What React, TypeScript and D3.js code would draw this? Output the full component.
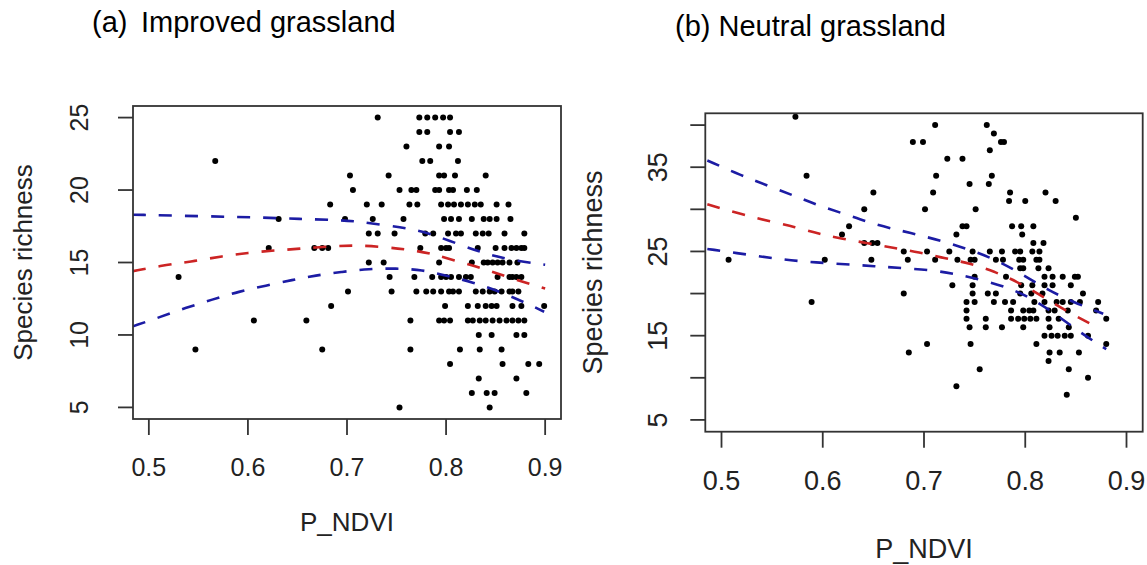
import React from "react";
import * as d3 from "d3";

// ---------- DATA ----------
const xTicks = [0.5, 0.6, 0.7, 0.8, 0.9];
const yTicksA = [5, 10, 15, 20, 25];
const yTicksB = [5, 10, 15, 20, 25, 30, 35, 40];
const yLabelsB = [5, 15, 25, 35];

// Improved grassland: rows of [species richness, P_NDVI values]
const improvedRows: [number, number[]][] = [
  [25, [0.731, 0.773, 0.781, 0.789, 0.797, 0.804]],
  [24, [0.773, 0.781, 0.804, 0.813]],
  [23, [0.76, 0.793, 0.803]],
  [22, [0.567, 0.776, 0.784, 0.812]],
  [21, [0.703, 0.742, 0.793, 0.798, 0.809, 0.84]],
  [20, [0.706, 0.753, 0.765, 0.77, 0.789, 0.793, 0.803, 0.807, 0.821, 0.831]],
  [19, [0.683, 0.72, 0.735, 0.763, 0.771, 0.795, 0.802, 0.808, 0.815, 0.822, 0.829, 0.835, 0.851, 0.863]],
  [18, [0.631, 0.698, 0.726, 0.757, 0.798, 0.805, 0.813, 0.826, 0.838, 0.844, 0.851, 0.865]],
  [17, [0.722, 0.731, 0.748, 0.779, 0.787, 0.802, 0.81, 0.815, 0.83, 0.837, 0.843, 0.859, 0.879]],
  [16, [0.621, 0.667, 0.675, 0.681, 0.774, 0.795, 0.8, 0.803, 0.832, 0.85, 0.859, 0.866, 0.871, 0.876, 0.879]],
  [15, [0.722, 0.737, 0.793, 0.826, 0.838, 0.842, 0.847, 0.852, 0.857, 0.864, 0.872]],
  [14, [0.53, 0.743, 0.768, 0.786, 0.795, 0.8, 0.805, 0.813, 0.82, 0.825, 0.852, 0.864, 0.867, 0.871, 0.876]],
  [13, [0.701, 0.745, 0.77, 0.78, 0.787, 0.795, 0.803, 0.807, 0.813, 0.83, 0.837, 0.844, 0.849, 0.856, 0.864, 0.867, 0.873]],
  [12, [0.684, 0.799, 0.822, 0.832, 0.84, 0.846, 0.851, 0.867, 0.876, 0.899]],
  [11, [0.606, 0.659, 0.764, 0.793, 0.798, 0.804, 0.822, 0.827, 0.834, 0.84, 0.847, 0.854, 0.861, 0.867, 0.873, 0.879]],
  [10, [0.833, 0.846, 0.871, 0.879]],
  [9, [0.547, 0.675, 0.764, 0.814, 0.834, 0.856]],
  [8, [0.804, 0.857, 0.883, 0.894]],
  [7, [0.833, 0.871]],
  [6, [0.826, 0.841, 0.849, 0.881]],
  [5, [0.753, 0.844]],
  [4, [0.746, 0.857]],
];

// Neutral grassland
const neutralRows: [number, number[]][] = [
  [41, [0.573]],
  [40, [0.711, 0.762]],
  [39, [0.769]],
  [38, [0.689, 0.699, 0.776, 0.779]],
  [37, [0.765]],
  [36, [0.723, 0.738]],
  [34, [0.584, 0.712, 0.767]],
  [33, [0.745, 0.764]],
  [32, [0.65, 0.709, 0.785, 0.82]],
  [31, [0.784, 0.8, 0.83]],
  [30, [0.641, 0.701, 0.751]],
  [29, [0.85]],
  [28, [0.626, 0.738, 0.742, 0.787, 0.796, 0.808]],
  [27, [0.619, 0.732, 0.797]],
  [26, [0.641, 0.649, 0.654, 0.808, 0.818]],
  [25, [0.68, 0.703, 0.725, 0.748, 0.765, 0.777, 0.79, 0.795, 0.807, 0.814]],
  [24, [0.507, 0.602, 0.648, 0.684, 0.711, 0.733, 0.746, 0.75, 0.771, 0.778, 0.794, 0.798, 0.811, 0.814]],
  [23, [0.795, 0.798, 0.813, 0.823]],
  [22, [0.75, 0.781, 0.819, 0.827, 0.837, 0.849, 0.852]],
  [21, [0.728, 0.748, 0.796, 0.807, 0.819, 0.827, 0.845]],
  [20, [0.68, 0.748, 0.763, 0.771, 0.795, 0.806, 0.817, 0.857]],
  [19, [0.589, 0.742, 0.75, 0.769, 0.78, 0.788, 0.809, 0.819, 0.831, 0.837, 0.845, 0.854, 0.872]],
  [18, [0.742, 0.786, 0.798, 0.804, 0.808, 0.823, 0.829, 0.842, 0.87]],
  [17, [0.742, 0.761, 0.786, 0.793, 0.799, 0.805, 0.811, 0.823, 0.833, 0.88]],
  [16, [0.745, 0.761, 0.777, 0.798, 0.824, 0.843]],
  [15, [0.819, 0.826, 0.832, 0.839, 0.845, 0.862]],
  [14, [0.703, 0.746, 0.811, 0.88]],
  [13, [0.685, 0.824, 0.834, 0.853]],
  [12, [0.823]],
  [11, [0.755, 0.843]],
  [10, [0.862]],
  [9, [0.732]],
  [8, [0.841]],
];

// Fitted curves
const fitAx = [0.484, 0.519, 0.546, 0.574, 0.6, 0.627, 0.652, 0.68, 0.706, 0.733, 0.76, 0.783, 0.81, 0.837, 0.864, 0.9];
const fitAy = [14.4, 14.86, 15.09, 15.44, 15.67, 15.83, 15.95, 16.1, 16.2, 16.1, 15.9, 15.67, 15.1, 14.6, 13.94, 13.2];
const upAx = [0.484, 0.55, 0.618, 0.652, 0.685, 0.709, 0.736, 0.763, 0.786, 0.815, 0.84, 0.867, 0.9];
const upAy = [18.3, 18.2, 18.1, 18.0, 17.95, 17.85, 17.6, 17.35, 16.95, 16.2, 15.6, 15.15, 14.85];
const loAx = [0.484, 0.51, 0.537, 0.564, 0.591, 0.618, 0.645, 0.668, 0.695, 0.722, 0.749, 0.776, 0.8, 0.827, 0.854, 0.881, 0.899];
const loAy = [10.6, 11.2, 11.87, 12.44, 13.0, 13.4, 13.8, 14.1, 14.36, 14.56, 14.6, 14.5, 14.1, 13.64, 13.0, 12.2, 11.6];

const fitBx = [0.486, 0.52, 0.547, 0.573, 0.596, 0.619, 0.646, 0.671, 0.695, 0.72, 0.745, 0.77, 0.794, 0.819, 0.844, 0.874];
const fitBy = [30.6, 29.4, 28.6, 27.9, 27.1, 26.5, 25.95, 25.4, 24.9, 24.2, 23.6, 22.6, 21.3, 19.5, 17.7, 15.8];
const upBx = [0.486, 0.52, 0.547, 0.573, 0.596, 0.623, 0.651, 0.676, 0.7, 0.725, 0.75, 0.775, 0.8, 0.823, 0.847, 0.877];
const upBy = [35.8, 34.0, 32.75, 31.55, 30.45, 29.4, 28.2, 27.5, 26.8, 26.0, 25.0, 23.8, 22.05, 20.4, 19.0, 17.6];
const loBx = [0.486, 0.527, 0.553, 0.58, 0.606, 0.633, 0.657, 0.682, 0.71, 0.735, 0.761, 0.788, 0.811, 0.834, 0.86, 0.88];
const loBy = [25.3, 24.6, 24.15, 23.8, 23.6, 23.4, 23.2, 23.0, 22.75, 22.25, 21.5, 20.5, 19.1, 17.2, 14.9, 13.4];

// ---------- STYLE ----------
const FONT = "'Liberation Sans', Arial, Helvetica, sans-serif";
const BLUE = "#1c1ca4";
const RED = "#cc2424";
const AXIS = "#333";

type PanelCfg = {
  id: string;
  x0: number; x1: number; y0: number; y1: number;
  xDomain: [number, number]; yDomain: [number, number];
  rows: [number, number[]][];
  yTicks: number[]; yLabels: number[];
  fit: [number[], number[]]; up: [number[], number[]]; lo: [number[], number[]];
  tickFont: number; labFont: number;
  yTickBase: number; xTickBase: number; xLabBase: number; yLabBase: number;
};

function Panel({ c }: { c: PanelCfg }) {
  const x = d3.scaleLinear().domain(c.xDomain).range([c.x0, c.x1]);
  const y = d3.scaleLinear().domain(c.yDomain).range([c.y1, c.y0]);
  const pts: [number, number][] = [];
  c.rows.forEach(([r, xs]) => xs.forEach((v) => pts.push([v, r])));
  const line = d3
    .line<[number, number]>()
    .x((d) => x(d[0]))
    .y((d) => y(d[1]))
    .curve(d3.curveBasis);
  const zip = (a: [number[], number[]]) => a[0].map((v, i) => [v, a[1][i]] as [number, number]);
  const tick = 15;
  const cx = (c.x0 + c.x1) / 2;
  const cy = (c.y0 + c.y1) / 2;
  return (
    <g>
      <defs>
        <clipPath id={`clip-${c.id}`}>
          <rect x={c.x0} y={c.y0} width={c.x1 - c.x0} height={c.y1 - c.y0} />
        </clipPath>
      </defs>
      <g clipPath={`url(#clip-${c.id})`}>
        {pts.map((p, i) => (
          <circle key={i} cx={x(p[0])} cy={y(p[1])} r={3} fill="#000" />
        ))}
        <path d={line(zip(c.up)) || ""} fill="none" stroke={BLUE} strokeWidth={2.6} strokeDasharray="13 13" />
        <path d={line(zip(c.lo)) || ""} fill="none" stroke={BLUE} strokeWidth={2.6} strokeDasharray="13 13" />
        <path d={line(zip(c.fit)) || ""} fill="none" stroke={RED} strokeWidth={2.6} strokeDasharray="13 13" />
      </g>
      <rect x={c.x0} y={c.y0} width={c.x1 - c.x0} height={c.y1 - c.y0} fill="none" stroke={AXIS} strokeWidth={1.8} />
      {xTicks.map((t) => (
        <g key={t}>
          <line x1={x(t)} x2={x(t)} y1={c.y1} y2={c.y1 + tick + 1} stroke={AXIS} strokeWidth={1.8} />
          <text x={x(t)} y={c.xTickBase} textAnchor="middle" fontSize={c.tickFont} fontFamily={FONT} fill="#222">
            {t.toFixed(1)}
          </text>
        </g>
      ))}
      {c.yTicks.map((t) => (
        <line key={t} x1={c.x0 - tick} x2={c.x0} y1={y(t)} y2={y(t)} stroke={AXIS} strokeWidth={1.8} />
      ))}
      {c.yLabels.map((t) => (
        <text
          key={t}
          transform={`translate(${c.yTickBase},${y(t)}) rotate(-90)`}
          textAnchor="middle"
          fontSize={c.tickFont}
          fontFamily={FONT}
          fill="#222"
        >
          {t}
        </text>
      ))}
      <text x={cx} y={c.xLabBase} textAnchor="middle" fontSize={c.labFont} fontFamily={FONT} fill="#222">
        P_NDVI
      </text>
      <text
        transform={`translate(${c.yLabBase},${cy}) rotate(-90)`}
        textAnchor="middle"
        fontSize={c.labFont}
        fontFamily={FONT}
        fill="#222"
      >
        Species richness
      </text>
    </g>
  );
}

const panelA: PanelCfg = {
  id: "a",
  x0: 133, x1: 561, y0: 106, y1: 419,
  xDomain: [0.484, 0.916], yDomain: [4.2, 25.8],
  rows: improvedRows, yTicks: yTicksA, yLabels: yTicksA,
  fit: [fitAx, fitAy], up: [upAx, upAy], lo: [loAx, loAy],
  tickFont: 25, labFont: 26,
  yTickBase: 88, xTickBase: 476, xLabBase: 531, yLabBase: 32,
};

const panelB: PanelCfg = {
  id: "b",
  x0: 705.3, x1: 1142.7, y0: 113.3, y1: 431.7,
  xDomain: [0.484, 0.916], yDomain: [3.6, 41.4],
  rows: neutralRows, yTicks: yTicksB, yLabels: yLabelsB,
  fit: [fitBx, fitBy], up: [upBx, upBy], lo: [loBx, loBy],
  tickFont: 27, labFont: 27,
  yTickBase: 667, xTickBase: 490, xLabBase: 558, yLabBase: 602,
};

export default function App() {
  return (
    <svg
      width={1147}
      height={565}
      style={{ position: "absolute", left: 0, top: 0, background: "#fff" }}
    >
      <rect width={1147} height={565} fill="#fff" />
      <text x={92} y={32} fontSize={29} fontFamily={FONT} fill="#000">(a)</text>
      <text x={141} y={32} fontSize={29} fontFamily={FONT} fill="#000">Improved grassland</text>
      <text x={675} y={36} fontSize={29} fontFamily={FONT} fill="#000">(b) Neutral grassland</text>
      <Panel c={panelA} />
      <Panel c={panelB} />
    </svg>
  );
}
